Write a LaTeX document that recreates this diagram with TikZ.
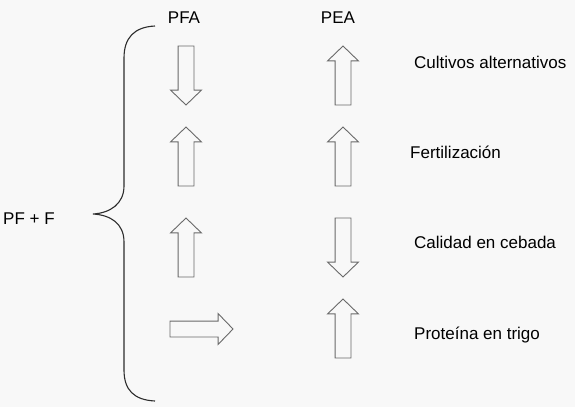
\documentclass[tikz,border=0pt]{standalone}
\usepackage{fontspec}
\setmainfont{Liberation Sans}
\usepackage{tikz}
\usetikzlibrary{shapes.arrows}
\definecolor{bggray}{RGB}{248,248,248}
\definecolor{linegray}{RGB}{105,105,105}
\definecolor{bracegray}{RGB}{45,45,45}
\tikzset{
  blockarrow/.style={
    single arrow,
    draw=linegray,
    fill=bggray,
    line width=0.9pt,
    inner sep=7.5pt,
    outer sep=0pt,
    single arrow head extend=7.5pt,
    single arrow tip angle=92,
    minimum height=59pt
  },
  uparrow/.style={blockarrow, shape border rotate=90},
  downarrow/.style={blockarrow, shape border rotate=270},
  rightarrow/.style={blockarrow, shape border rotate=0, minimum height=63pt},
  label/.style={
    font=\fontsize{17}{20}\selectfont,
    inner sep=0pt
  }
}

\begin{document}
\begin{tikzpicture}[x=1pt, y=-1pt]
        \fill[bggray] (0,0) rectangle (575,407);
        \useasboundingbox (0,0) rectangle (575,407);
        % column heads
        \node[label, anchor=base] (pfa) at (184,23) {PFA};
        \node[label, anchor=base] (pea) at (338,23) {PEA};
        \node[label, anchor=base west] (pff) at (3,224) {PF + F};
        % brace
        \coordinate (tip) at (93,214);
        \draw[bracegray, line width=1.1pt]
          (155,26) .. controls (134,27) and (124,38) .. (124,58) -- (124,186)
          .. controls (124,204) and (110,213) .. (tip)
          .. controls (110,215) and (124,223) .. (124,242) -- (124,370)
          .. controls (124,390) and (134,400) .. (155,401);
        % PFA column
        \node[downarrow, anchor=north] (pfa1) at (186,46) {};
        \node[uparrow, anchor=north] (pfa2) at (186,127) {};
        \node[uparrow, anchor=north] (pfa3) at (186,218) {};
        \node[rightarrow, anchor=west] (pfa4) at (170,329) {};
        % PEA column
        \node[uparrow, anchor=north] (pea1) at (343,46) {};
        \node[uparrow, anchor=north] (pea2) at (343,127) {};
        \node[downarrow, anchor=north] (pea3) at (343,218) {};
        \node[uparrow, anchor=north] (pea4) at (343,299) {};
        % row labels
        \node[label, anchor=base west] (cult) at (414,68) {Cultivos alternativos};
        \node[label, anchor=base west] (fert) at (410,158) {Fertilización};
        \node[label, anchor=base west] (cal) at (414,248) {Calidad en cebada};
        \node[label, anchor=base west] (prot) at (414,339) {Proteína en trigo};
      \end{tikzpicture}
\end{document}
